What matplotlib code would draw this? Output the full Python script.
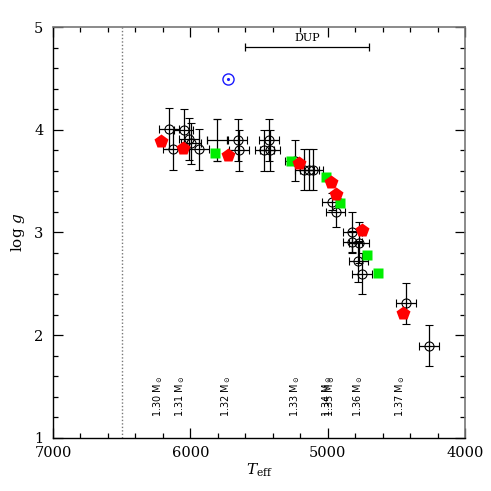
import matplotlib
matplotlib.use("Agg")
import matplotlib.pyplot as plt
from matplotlib.ticker import MultipleLocator
import numpy as np

plt.rcParams['font.family'] = ['DejaVu Serif']
plt.rcParams['mathtext.fontset'] = 'dejavuserif'

# Observed stars (open circles with error bars)
obs_teff = [6155, 6048, 6128, 6010, 5995, 5937, 5655, 5645, 5427, 5461, 5420,
            5240, 5170, 5133, 5104, 4970, 4941, 4820, 4820, 4771, 4776, 4750,
            4429, 4262]
obs_logg = [4.01, 4.00, 3.81, 3.91, 3.87, 3.81, 3.90, 3.80, 3.90, 3.80, 3.80,
            3.70, 3.61, 3.61, 3.61, 3.30, 3.20, 3.00, 2.91, 2.90, 2.72, 2.60,
            2.31, 1.90]
obs_teff_err = [70] * 24
obs_logg_err = [0.2, 0.2, 0.2, 0.2, 0.2, 0.2, 0.2, 0.2, 0.2, 0.2, 0.2,
                0.2, 0.2, 0.2, 0.2, 0.08, 0.15, 0.2, 0.1, 0.2, 0.2, 0.2,
                0.2, 0.2]

# star with error bars but no marker
cross_teff = [5808]
cross_logg = [3.90]
cross_teff_err = [72]
cross_logg_err = [0.2]

# Model points
red_teff = [6216, 6056, 5723, 5211, 4978, 4939, 4752, 4453]
red_logg = [3.89, 3.82, 3.75, 3.68, 3.49, 3.37, 3.02, 2.22]
green_teff = [5822, 5269, 5012, 4910, 4711, 4636]
green_logg = [3.77, 3.70, 3.54, 3.29, 2.78, 2.61]

# Sun
sun_teff = [5725]
sun_logg = [4.49]

# Mass labels
mass_teff = [6235, 6075, 5740, 5237, 5004, 4983, 4779, 4473]
mass_labels = ['1.30', '1.31', '1.32', '1.33', '1.34', '1.35', '1.36', '1.37']

# DUP range
dup_range = [5600, 4700]
dup_logg = 4.81

fig = plt.figure(figsize=(4.91, 4.91), dpi=100)
ax = fig.add_axes([0.108, 0.108, 0.839, 0.837])

ax.axvline(6500, color='#777777', linestyle=(0, (1, 1.5)), linewidth=1.0)

ax.errorbar(obs_teff, obs_logg, xerr=obs_teff_err, yerr=obs_logg_err,
            fmt='o', mfc='none', mec='black', ms=6.5, mew=0.8,
            ecolor='black', elinewidth=0.9, capsize=3, capthick=0.9, zorder=2)
ax.errorbar(cross_teff, cross_logg, xerr=cross_teff_err, yerr=cross_logg_err,
            fmt='none', ecolor='black', elinewidth=0.9, capsize=3, capthick=0.9,
            zorder=2)

ax.plot(green_teff, green_logg, 's', color='#00ee00', ms=7, mec='none', zorder=3)
ax.plot(red_teff, red_logg, 'p', color='#ff0000', ms=10, mec='none', zorder=4)

# Sun symbol
ax.plot(sun_teff, sun_logg, 'o', mfc='none', mec='#1a1aff', ms=8, mew=1.0, zorder=4)
ax.plot(sun_teff, sun_logg, '.', color='#1a1aff', ms=2.5, zorder=4)

# DUP bracket
ax.errorbar([sum(dup_range) / 2], [dup_logg],
            xerr=[[dup_range[0] - sum(dup_range) / 2], [sum(dup_range) / 2 - dup_range[1]]],
            fmt='none', ecolor='black', elinewidth=0.9, capsize=3, capthick=0.9)
ax.text(sum(dup_range) / 2, dup_logg + 0.035, 'DUP', ha='center', va='bottom',
        fontsize=8)

for t, m in zip(mass_teff, mass_labels):
    ax.text(t, 1.2, m + r' M$_\odot$', rotation=90, ha='center', va='bottom',
            fontsize=7, family='DejaVu Sans')

ax.set_xlim(7000, 4000)
ax.set_ylim(1, 5)
ax.xaxis.set_major_locator(MultipleLocator(1000))
ax.xaxis.set_minor_locator(MultipleLocator(200))
ax.yaxis.set_major_locator(MultipleLocator(1))
ax.yaxis.set_minor_locator(MultipleLocator(0.2))
ax.tick_params(which='both', direction='in', top=True, right=True, labelsize=10.5)
ax.tick_params(which='major', length=7, width=0.9)
ax.tick_params(which='minor', length=3.5, width=0.9)
ax.tick_params(axis='x', which='major', pad=6)
ax.tick_params(axis='y', which='major', pad=7)
for s in ['left', 'bottom']:
    ax.spines[s].set_linewidth(1.0)
for s in ['top', 'right']:
    ax.spines[s].set_linewidth(1.2)
    ax.spines[s].set_color('#777777')

ax.set_xlabel(r'$T_{\rm eff}$', fontsize=11, labelpad=1)
ax.set_ylabel(r'log $g$', fontsize=11, labelpad=5)

fig.savefig('out.png', dpi=100)
